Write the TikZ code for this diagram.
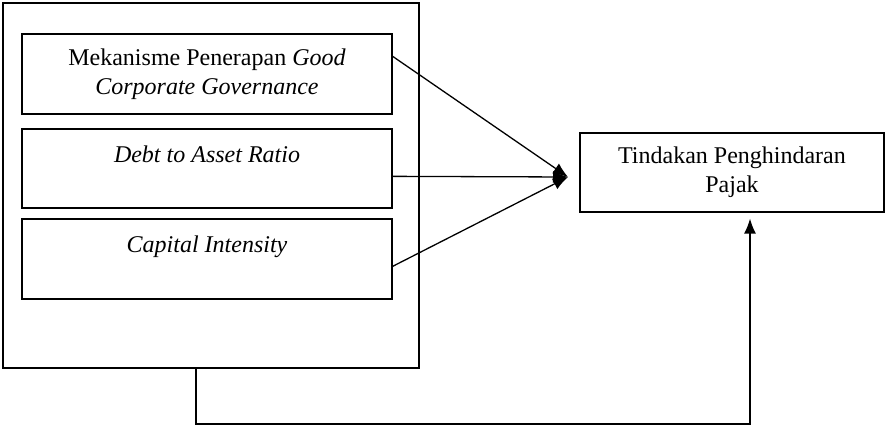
\documentclass[tikz,border=0pt]{standalone}
\usepackage{fontspec}
\setmainfont{Liberation Serif}
\usetikzlibrary{arrows.meta,calc}
\begin{document}
\begin{tikzpicture}[x=1pt,y=-1pt,
  box/.style={draw,line width=1.3pt,rectangle,inner sep=0pt,align=center,
    font=\fontsize{24}{29}\selectfont},
  conn/.style={line width=1.3pt,-{Latex[length=15pt,width=12pt]}}]
\useasboundingbox (0,0) rectangle (886,427);
\node[box,minimum width=416pt,minimum height=365pt] (outer) at (211,185.5) {};
\node[box,minimum width=370pt,minimum height=80pt] (gcg) at (207,74)
  {Mekanisme Penerapan \textit{Good}\\ \textit{Corporate Governance}};
\node[box,minimum width=370pt,minimum height=79pt] (dar) at (207,168.5)
  {\textit{Debt to Asset Ratio}\\ ~};
\node[box,minimum width=370pt,minimum height=80pt] (ci) at (207,259)
  {\textit{Capital Intensity}\\ ~};
\node[box,minimum width=304pt,minimum height=79pt] (tpp) at (732,172.5)
  {Tindakan Penghindaran\\ Pajak};
\coordinate (tip) at (568,177);
\coordinate (low) at (196,424);
\draw[conn] ($(gcg.north east)+(0,23)$) -- (tip);
\draw[conn] ($(dar.north east)+(0,48)$) -- (tip);
\draw[conn] ($(ci.north east)+(0,48)$) -- (tip);
\draw[conn,shorten >=6pt] (low |- outer.south) -- (low) -| (tpp.south -| 750,0);
\end{tikzpicture}
\end{document}
